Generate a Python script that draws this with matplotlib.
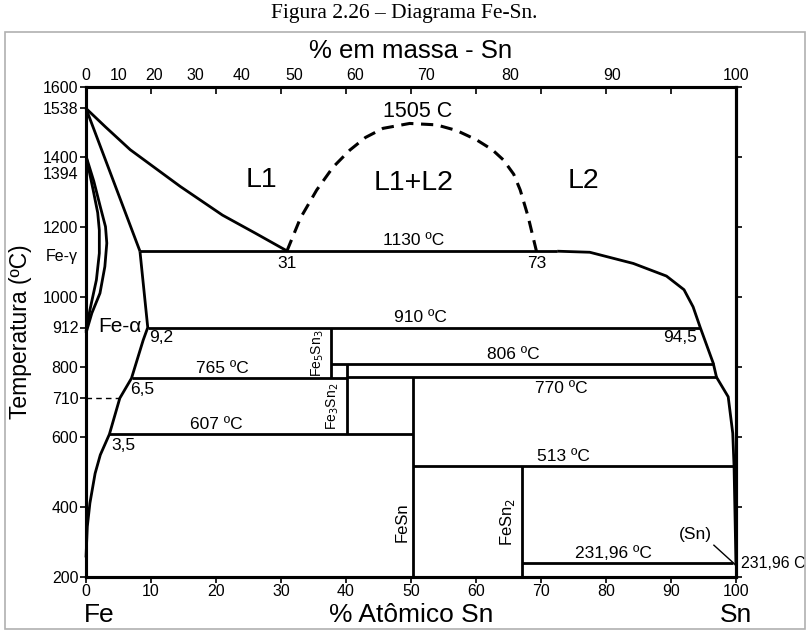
import matplotlib.pyplot as plt
from matplotlib.patches import Rectangle

plt.rcParams['font.family'] = ['Liberation Sans', 'DejaVu Sans']

# ---- data (at.% Sn, temperature in C) ----
liq_L1_x = [0, 3, 6.8, 14.5, 21, 26, 31]
liq_L1_y = [1538, 1485, 1420, 1315, 1233, 1182, 1130]

sol_x = [0, 8.3]
sol_y = [1538, 1130]

alpha_x = [8.3, 9.5, 8.8, 7.0, 5.2, 3.6, 2.2, 1.4, 0.6, 0.2, 0]
alpha_y = [1130, 912, 876, 767, 710, 607, 548, 495, 410, 343, 255]

gamma_out_x = [0, 1.2, 2.2, 3.0, 3.2, 2.9, 2.15, 0.9, 0]
gamma_out_y = [1402, 1330, 1257, 1200, 1153, 1086, 1010, 953, 896]
gamma_in_x = [0, 1.1, 1.8, 2.05, 2.05, 1.6, 0.6, 0]
gamma_in_y = [1402, 1305, 1240, 1190, 1124, 1048, 962, 900]

gap_x = [30.9, 33, 35.5, 38, 40.6, 43, 45.7, 49.8, 53.9, 57, 60.1, 62.5, 64.2, 65.8, 66.8, 68, 69.3]
gap_y = [1130, 1225, 1305, 1370, 1419, 1455, 1481, 1495, 1491, 1475, 1448, 1420, 1391, 1350, 1305, 1230, 1130]

liq_L2_x = [72.5, 77.5, 84.2, 89.3, 92, 93.4, 94.5, 96.5, 97.0, 98.8, 99.5, 99.7, 100]
liq_L2_y = [1130, 1127, 1095, 1059, 1020, 971, 912, 810, 770, 714, 610, 515, 232]

# horizontal invariant lines: (x_start, x_end, T)
h_x0 = [8.3, 9.5, 37.7, 7.0, 40.1, 3.6, 50.3, 67.1]
h_x1 = [72.5, 94.5, 96.6, 40.1, 97.0, 50.3, 99.7, 99.5]
h_t = [1130, 912, 808, 767, 770, 607, 515, 238]

# vertical compound lines: (x, T_top, T_bottom)
v_x = [37.7, 40.1, 50.3, 67.1]
v_top = [912, 808, 770, 515]
v_bot = [767, 607, 200, 200]

left_ticks = [200, 400, 600, 710, 800, 912, 1000, 1200, 1400, 1538, 1600]
right_ticks = [200, 400, 600, 800, 1000, 1200, 1400, 1600]
bottom_ticks = [0, 10, 20, 30, 40, 50, 60, 70, 80, 90, 100]
wt_ticks = [0, 10, 20, 30, 40, 50, 60, 70, 80, 90, 100]
M_FE, M_SN = 55.845, 118.71


def wt_to_at(w):
    if w >= 100:
        return 100.0
    a = w / M_SN
    b = (100 - w) / M_FE
    return 100 * a / (a + b)


fig = plt.figure(figsize=(8.09, 6.32), dpi=100)
fig.patches.append(Rectangle((0.006, 0.004), 0.989, 0.945, transform=fig.transFigure,
                             fill=False, edgecolor='#b0b0b0', lw=1.2))
fig.text(0.5, 0.979, 'Figura 2.26 – Diagrama Fe-Sn.', ha='center', va='center',
         fontsize=15.5, family='Liberation Serif')

ax = fig.add_axes([86 / 809, 55.3 / 632, 650 / 809, 490 / 632])
ax.set_xlim(0, 100)
ax.set_ylim(200, 1600)

lw = 2.0
kw = dict(color='black', lw=lw, solid_capstyle='butt', clip_on=False)
ax.plot(liq_L1_x, liq_L1_y, **kw)
ax.plot(sol_x, sol_y, **kw)
ax.plot(alpha_x, alpha_y, **kw)
ax.plot(gamma_out_x, gamma_out_y, **kw)
ax.plot(gamma_in_x, gamma_in_y, **kw)
ax.plot(liq_L2_x, liq_L2_y, **kw)
ax.plot(gap_x, gap_y, color='black', lw=2.2, ls=(0, (4, 2.5)))
for x0, x1, t in zip(h_x0, h_x1, h_t):
    ax.plot([x0, x1], [t, t], **kw)
for x, t0, t1 in zip(v_x, v_top, v_bot):
    ax.plot([x, x], [t0, t1], **kw)
ax.plot([0, 5.2], [710, 710], color='black', lw=1.0, ls=(0, (4, 3)), clip_on=False)
ax.plot([96.6, 99.8], [290, 236], color='black', lw=1.0)

for s in ax.spines.values():
    s.set_linewidth(2.2)

tfs = 11.5
ax.set_xticks(bottom_ticks)
ax.set_yticks(left_ticks)
ax.tick_params(axis='both', direction='out', length=4, width=1.2, labelsize=tfs, pad=1.5)

axr = ax.secondary_yaxis('right')
axr.set_yticks(right_ticks)
axr.set_yticklabels([])
axr.tick_params(direction='out', length=4, width=1.2)
axr.spines['right'].set_linewidth(2.2)

axt = ax.twiny()
axt.set_xlim(0, 100)
axt.set_xticks([wt_to_at(w) for w in wt_ticks])
axt.set_xticklabels([str(w) for w in wt_ticks])
axt.set_xticks(bottom_ticks, minor=True)
axt.tick_params(axis='x', which='major', length=0, labelsize=tfs, pad=3)
axt.tick_params(axis='x', which='minor', direction='in', length=5, width=1.2)
for s in axt.spines.values():
    s.set_linewidth(2.2)
ax.text(0.5, 1.072, '% em massa - Sn', transform=ax.transAxes, ha='center', va='center',
        fontsize=18.5)

ax.set_ylabel('Temperatura (ºC)', fontsize=16.5)
ax.yaxis.set_label_coords(-0.083, 0.5)
ax.text(50, -0.078, '% Atômico Sn', transform=ax.get_xaxis_transform(), ha='center',
        va='center', fontsize=19)
ax.text(-0.3, -0.078, 'Fe', transform=ax.get_xaxis_transform(), ha='left', va='center', fontsize=19)
ax.text(100, -0.078, 'Sn', transform=ax.get_xaxis_transform(), ha='center', va='center', fontsize=19)
ax.text(-0.012, 1348, '1394', transform=ax.get_yaxis_transform(), ha='right', va='center', fontsize=tfs)
ax.text(-0.012, 1114, 'Fe-γ', transform=ax.get_yaxis_transform(), ha='right', va='center', fontsize=tfs)

big = 20.5
ax.text(27, 1333, 'L1', ha='center', va='center', fontsize=big)
ax.text(50.4, 1324, 'L1+L2', ha='center', va='center', fontsize=big)
ax.text(76.5, 1330, 'L2', ha='center', va='center', fontsize=big)
ax.text(51, 1529, '1505 C', ha='center', va='center', fontsize=15.5)

fs = 12.5
ax.text(50.4, 1160, '1130 ºC', ha='center', va='center', fontsize=fs)
ax.text(31, 1094, '31', ha='center', va='center', fontsize=fs)
ax.text(69.3, 1094, '73', ha='center', va='center', fontsize=fs)
ax.text(5.2, 914, 'Fe-α', ha='center', va='center', fontsize=15)
ax.text(11.6, 884, '9,2', ha='center', va='center', fontsize=fs)
ax.text(51.4, 940, '910 ºC', ha='center', va='center', fontsize=fs)
ax.text(91.4, 884, '94,5', ha='center', va='center', fontsize=fs)
ax.text(65.7, 836, '806 ºC', ha='center', va='center', fontsize=fs)
ax.text(21, 794, '765 ºC', ha='center', va='center', fontsize=fs)
ax.text(8.6, 734, '6,5', ha='center', va='center', fontsize=fs)
ax.text(73.2, 737, '770 ºC', ha='center', va='center', fontsize=fs)
ax.text(20, 636, '607 ºC', ha='center', va='center', fontsize=fs)
ax.text(5.8, 576, '3,5', ha='center', va='center', fontsize=fs)
ax.text(73.4, 543, '513 ºC', ha='center', va='center', fontsize=fs)
ax.text(81.1, 266, '231,96 ºC', ha='center', va='center', fontsize=fs)
ax.text(93.8, 320, '(Sn)', ha='center', va='center', fontsize=fs)
ax.text(100.8, 238, '231,96 C', ha='left', va='center', fontsize=11.5, clip_on=False)

ax.text(35.6, 839, r'Fe$_5$Sn$_3$', rotation=90, ha='center', va='center', fontsize=10)
ax.text(38.0, 686, r'Fe$_3$Sn$_2$', rotation=90, ha='center', va='center', fontsize=10)
ax.text(48.6, 357, 'FeSn', rotation=90, ha='center', va='center', fontsize=12)
ax.text(64.9, 357, r'FeSn$_2$', rotation=90, ha='center', va='center', fontsize=12)

fig.savefig('out.png', dpi=100)
